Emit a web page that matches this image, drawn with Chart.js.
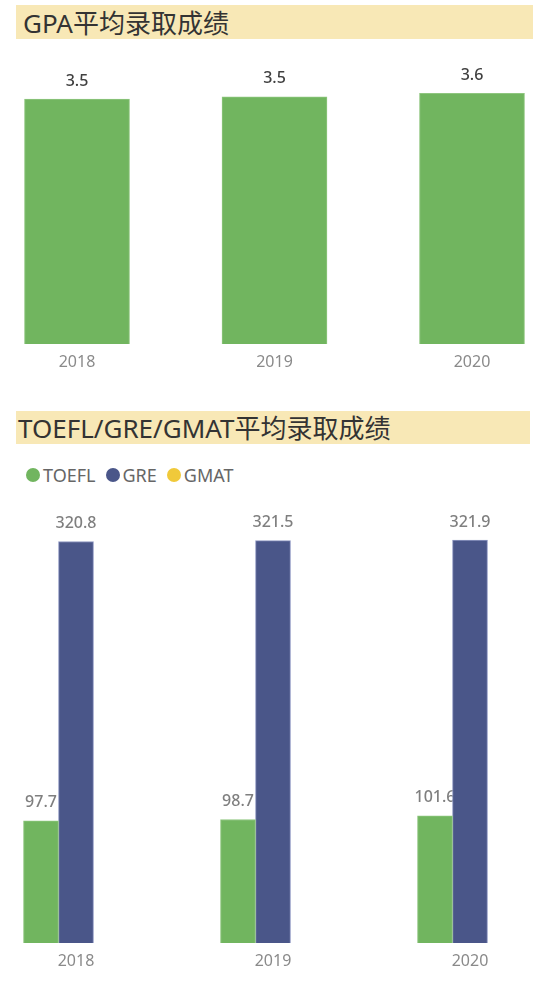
<!DOCTYPE html>
<html>
<head>
<meta charset="utf-8">
<script src="https://cdn.jsdelivr.net/npm/chart.js@4.4.0/dist/chart.umd.min.js"></script>
<style>
  html, body { margin: 0; padding: 0; background: #fff; }
  body { width: 550px; height: 986px; position: relative; overflow: hidden;
         font-family: "Noto Sans", "Noto Sans CJK SC", sans-serif; }
  .band { position: absolute; left: 16px; background: #f8e8b6; color: #333;
          font-size: 26px; box-sizing: border-box; white-space: nowrap; }
  #band1 { top: 5px; width: 517px; height: 34px; line-height: 36px; padding-left: 7px; }
  #band2 { top: 411px; width: 514px; height: 33px; line-height: 35px; padding-left: 2px; }
  .wrap { position: absolute; left: 0; width: 550px; }
  #wrap1 { top: 40px; height: 340px; }
  #wrap2 { top: 450px; height: 529px; }
  #legend { position: absolute; left: 26px; top: 463px; display: flex; align-items: center;
            font-size: 18px; color: #666; }
  #legend .item { display: flex; align-items: center; margin-right: 10px; }
  #legend .dot { width: 14px; height: 14px; border-radius: 50%; margin-right: 3px; }
</style>
</head>
<body>
<div class="band" id="band1">GPA平均录取成绩</div>
<div class="wrap" id="wrap1"><canvas id="gpa-chart"></canvas></div>

<div class="band" id="band2">TOEFL/GRE/GMAT平均录取成绩</div>
<div id="legend"></div>
<div class="wrap" id="wrap2"><canvas id="test-chart"></canvas></div>

<script>
// data
var years = ['2018', '2019', '2020'];
var gpaValues = [3.50, 3.53, 3.58];
var toeflValues = [97.7, 98.7, 101.6];
var greValues = [320.8, 321.5, 321.9];
var gmatValues = [null, null, null];
var seriesNames = ['TOEFL', 'GRE', 'GMAT'];

var GREEN = '#71b55f';
var BLUE = '#4a5689';
var YELLOW = '#f0c93a';

// draws value labels above each bar, before the bars so neighbouring bars cover overlaps
var valueLabels = {
    id: 'valueLabels',
    beforeDatasetsDraw: function(chart, args, opts) {
        var ctx = chart.ctx;
        ctx.save();
        ctx.font = '500 16px "Noto Sans", sans-serif';
        ctx.fillStyle = opts.color || '#666';
        ctx.textAlign = 'center';
        ctx.textBaseline = 'middle';
        chart.data.datasets.forEach(function(ds, i) {
            var meta = chart.getDatasetMeta(i);
            meta.data.forEach(function(bar, j) {
                var v = ds.data[j];
                if (v === null || v === undefined) return;
                ctx.fillText(v.toFixed(1), bar.x, bar.y - 18);
            });
        });
        ctx.restore();
    }
};

function xAxis() {
    return {
        offset: false,
        grid: { display: false, drawTicks: false },
        border: { display: false },
        ticks: { padding: 9, color: '#8a8a8a', font: { size: 16, family: '"Noto Sans", sans-serif' } },
        afterFit: function(scale) { scale.height = 36; }
    };
}

new Chart(document.getElementById('gpa-chart'), {
    type: 'bar',
    data: {
        labels: years,
        datasets: [{
            label: 'GPA',
            data: gpaValues,
            backgroundColor: GREEN,
            borderColor: '#8fc67f',
            borderWidth: 1,
            barThickness: 105,
            clip: false
        }]
    },
    options: {
        responsive: true,
        maintainAspectRatio: false,
        animation: false,
        layout: { padding: { left: 77, right: 78, top: 24, bottom: 0 } },
        plugins: {
            legend: { display: false },
            tooltip: { enabled: false },
            valueLabels: { color: '#404040' }
        },
        scales: {
            x: xAxis(),
            y: { display: false, min: 0, max: 4 }
        }
    },
    plugins: [valueLabels]
});

var testColors = [GREEN, BLUE, YELLOW];
var testEdges = ['#8fc67f', '#8e97c2', '#f5da7a'];
var testData = [toeflValues, greValues, gmatValues];

new Chart(document.getElementById('test-chart'), {
    type: 'bar',
    data: {
        labels: years,
        datasets: seriesNames.map(function(name, i) {
            return {
                label: name,
                data: testData[i],
                backgroundColor: testColors[i],
                borderColor: testEdges[i],
                borderWidth: 1,
                barThickness: 35,
                clip: false
            };
        })
    },
    options: {
        responsive: true,
        maintainAspectRatio: false,
        animation: false,
        layout: { padding: { left: 76, right: 80, top: 55, bottom: 0 } },
        plugins: {
            legend: { display: false },
            tooltip: { enabled: false },
            valueLabels: { color: '#7f7f7f' }
        },
        scales: {
            x: xAxis(),
            y: { display: false, min: 0, max: 350 }
        }
    },
    plugins: [valueLabels]
});

// simple html legend from the series list
var legendEl = document.getElementById('legend');
seriesNames.forEach(function(name, i) {
    var item = document.createElement('div');
    item.className = 'item';
    var dot = document.createElement('span');
    dot.className = 'dot';
    dot.style.background = testColors[i];
    var txt = document.createElement('span');
    txt.textContent = name;
    item.appendChild(dot);
    item.appendChild(txt);
    legendEl.appendChild(item);
});
</script>
</body>
</html>
